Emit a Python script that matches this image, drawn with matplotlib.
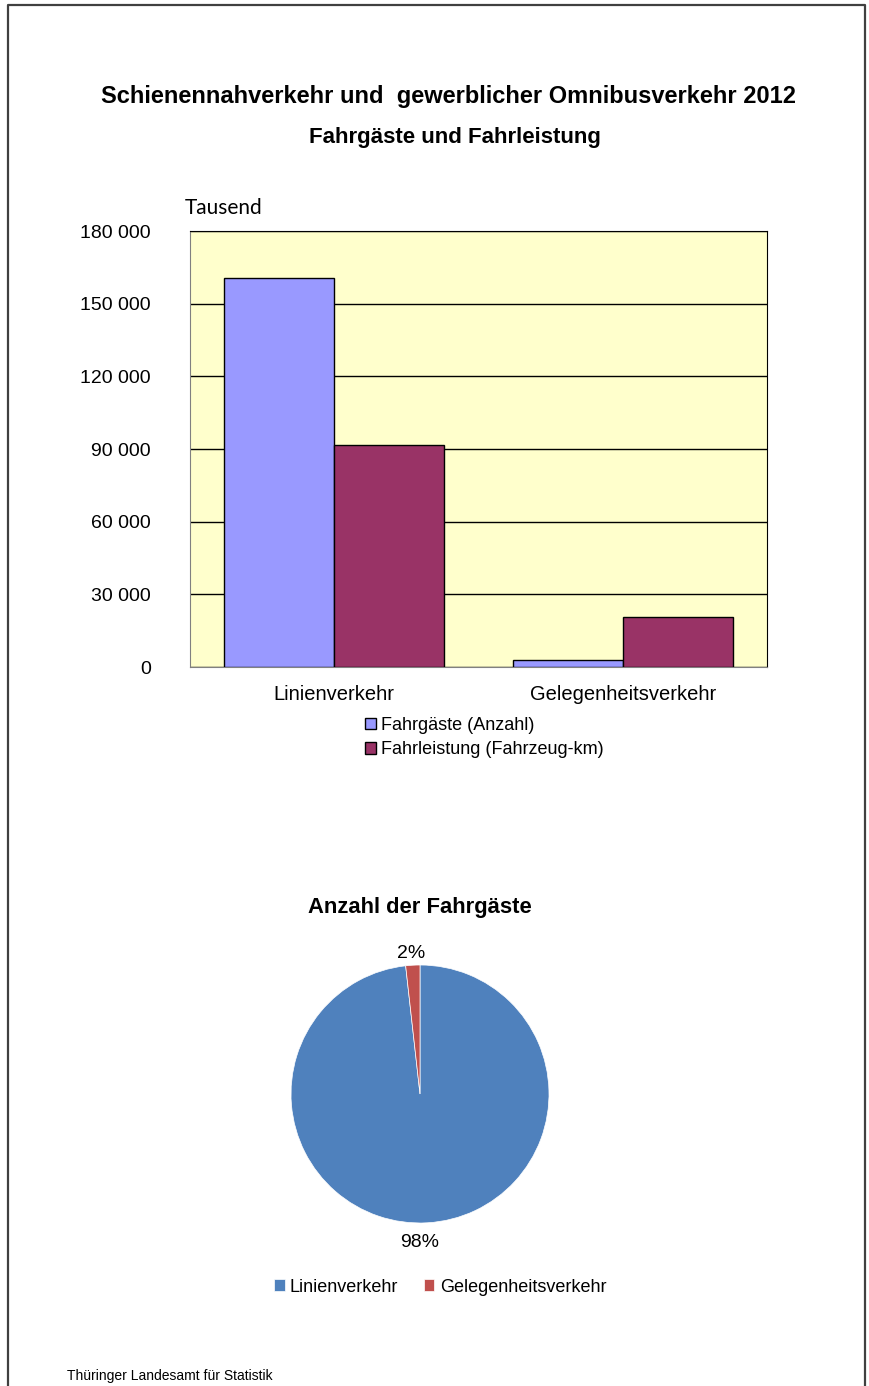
import matplotlib
matplotlib.use('Agg')
import matplotlib.pyplot as plt
from matplotlib.lines import Line2D
from matplotlib.ticker import FuncFormatter
import numpy as np

plt.rcParams['font.family'] = ['Liberation Sans', 'DejaVu Sans']

categories = ['Linienverkehr', 'Gelegenheitsverkehr']
fahrgaeste = [160600, 2900]
fahrleistung = [91650, 20640]
series_names = ['Fahrgäste (Anzahl)', 'Fahrleistung (Fahrzeug-km)']
yticks = [0, 30000, 60000, 90000, 120000, 150000, 180000]

pie_labels = ['Linienverkehr', 'Gelegenheitsverkehr']
pie_values = fahrgaeste

W, H = 869, 1386
fig = plt.figure(figsize=(W / 100, H / 100), dpi=100)


def fx(px):
    return px / W


def fy(py):
    return 1 - py / H


# page frame
fig.add_artist(Line2D([fx(8), fx(8), fx(865), fx(865)],
                      [fy(1386), fy(5), fy(5), fy(1386)],
                      color='#404040', lw=1.6))

fig.text(fx(448), fy(96), 'Schienennahverkehr und  gewerblicher Omnibusverkehr 2012',
         ha='center', va='center', fontsize=17, fontweight='bold')
fig.text(fx(455), fy(137), 'Fahrgäste und Fahrleistung',
         ha='center', va='center', fontsize=16, fontweight='bold')

# bar chart
ax = fig.add_axes([fx(190), fy(667), fx(767) - fx(190), fy(231) - fy(667)])
ax.set_facecolor('#FFFFCC')
x = np.arange(len(categories))
w = 0.382
b1 = ax.bar(x - w / 2, fahrgaeste, w, color='#9999FF', edgecolor='black', lw=1, zorder=3,
            label=series_names[0])
b2 = ax.bar(x + w / 2, fahrleistung, w, color='#993366', edgecolor='black', lw=1, zorder=3,
            label=series_names[1])
ax.set_xlim(-0.5, 1.5)
ax.set_ylim(0, 180000)
ax.set_yticks(yticks)
ax.yaxis.set_major_formatter(FuncFormatter(lambda v, p: f'{int(v):,}'.replace(',', ' ')))
ax.grid(axis='y', color='black', lw=1, zorder=1)
ax.tick_params(axis='y', length=0, pad=28, labelsize=14)
ax.tick_params(axis='x', length=0, pad=13, labelsize=14.5)
ax.set_xticks(x)
ax.set_xticklabels(categories)
ax.spines['left'].set_color('#808080')
ax.spines['bottom'].set_color('#808080')
ax.spines['top'].set_color('black')
ax.spines['right'].set_color('black')
fig.text(fx(185), fy(208), 'Tausend', ha='left', va='center', fontsize=15,
         family=['Lato', 'DejaVu Sans'])

fig.legend(handles=[b1, b2], loc='upper left', bbox_to_anchor=(fx(365), fy(717)),
           frameon=False, fontsize=13, handlelength=0.6, handleheight=0.6,
           handletextpad=0.3, labelspacing=0.4, borderaxespad=0, borderpad=0)

# pie chart
fig.text(fx(420), fy(908), 'Anzahl der Fahrgäste', ha='center', va='center',
         fontsize=15.8, fontweight='bold')
pax = fig.add_axes([fx(291), fy(1223), fx(549) - fx(291), fy(965) - fy(1223)])
wedges, texts, autotexts = pax.pie(pie_values, colors=['#4F81BD', '#C0504D'], startangle=90,
                                   counterclock=False, autopct='%.0f%%', pctdistance=1.12,
                                   wedgeprops=dict(edgecolor='white', lw=0.5),
                                   textprops=dict(fontsize=14))
autotexts[0].set_position((0.0, -1.15))
autotexts[1].set_position((-0.07, 1.09))
pax.set_xlim(-1, 1)
pax.set_ylim(-1, 1)
pax.set_aspect('equal')
fig.legend(handles=wedges, labels=pie_labels, loc='center', bbox_to_anchor=(fx(440), fy(1287)),
           ncol=2, frameon=False, fontsize=13, handlelength=0.6, handleheight=0.6,
           handletextpad=0.3, columnspacing=1.4, borderaxespad=0, borderpad=0)

fig.text(fx(67), fy(1376), 'Thüringer Landesamt für Statistik', ha='left', va='center',
         fontsize=10)

fig.savefig('out.png', dpi=100)
